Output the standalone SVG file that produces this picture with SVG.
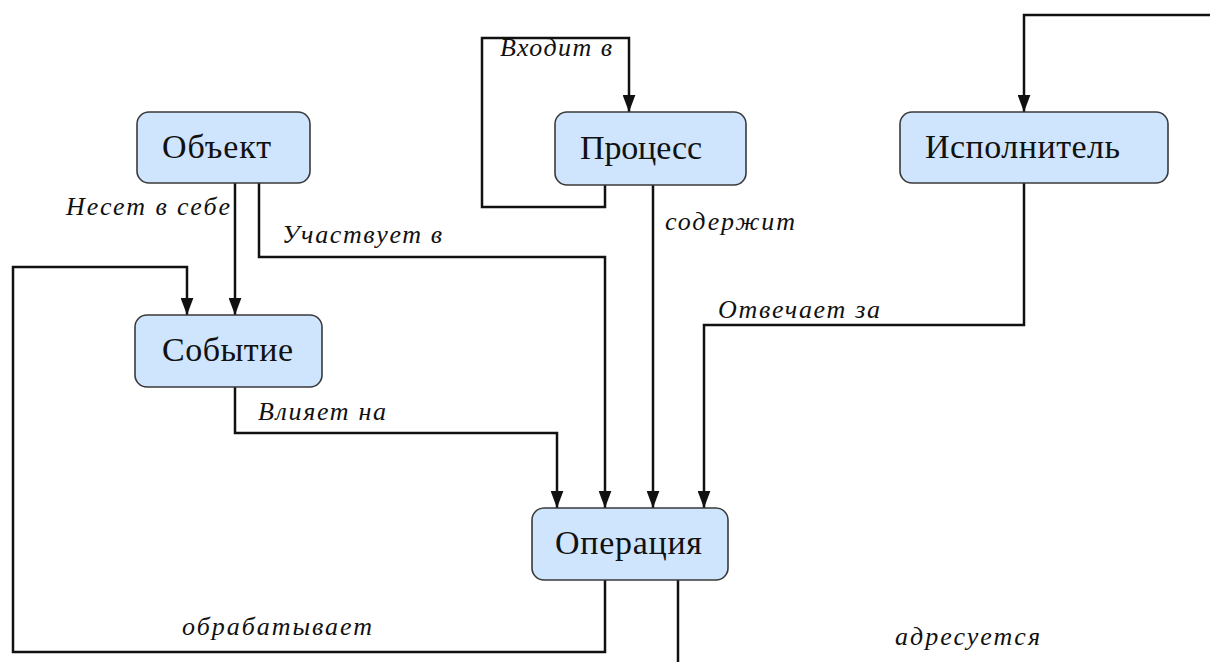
<svg xmlns="http://www.w3.org/2000/svg" width="1210" height="662" viewBox="0 0 1210 662">
<style>
.node rect{fill:#cfe5fd;stroke:#3a3a3a;stroke-width:1.6}
.node text{font-family:"Liberation Serif",serif;font-size:34px;fill:#111;text-anchor:middle}
.lbl{font-family:"Liberation Serif",serif;font-style:italic;font-size:26px;fill:#111}
#connectors path{fill:none;stroke:#111;stroke-width:2.5}
</style>
<defs>
<marker id="arr" viewBox="0 0 16 12" refX="16" refY="6" markerWidth="17" markerHeight="13" markerUnits="userSpaceOnUse" orient="auto">
<path d="M0,0 L16,6 L0,12 Z" fill="#111"/>
</marker>
</defs>
<rect width="1210" height="662" fill="#fff"/>
<g id="connectors">
<path d="M605,185 V207 H482 V38 H629 V112" marker-end="url(#arr)"/>
<path d="M1210,15 H1024 V112" marker-end="url(#arr)"/>
<path d="M235,183 V315" marker-end="url(#arr)"/>
<path d="M259,183 V257 H605 V508" marker-end="url(#arr)"/>
<path d="M605,580 V652 H13 V267 H187 V315" marker-end="url(#arr)"/>
<path d="M235,387 V433 H557 V508" marker-end="url(#arr)"/>
<path d="M653,185 V508" marker-end="url(#arr)"/>
<path d="M1024,183 V325 H704 V508" marker-end="url(#arr)"/>
<path d="M678,580 V662"/>
</g>
<g id="labels">
<text class="lbl" x="66" y="215" textLength="164" lengthAdjust="spacing">Несет в себе</text>
<text class="lbl" x="282" y="243" textLength="160" lengthAdjust="spacing">Участвует в</text>
<text class="lbl" x="500" y="56" textLength="112" lengthAdjust="spacing">Входит в</text>
<text class="lbl" x="665" y="230" textLength="130" lengthAdjust="spacing">содержит</text>
<text class="lbl" x="718" y="318" textLength="162" lengthAdjust="spacing">Отвечает за</text>
<text class="lbl" x="258" y="420" textLength="128" lengthAdjust="spacing">Влияет на</text>
<text class="lbl" x="182" y="635" textLength="190" lengthAdjust="spacing">обрабатывает</text>
<text class="lbl" x="895" y="645" textLength="145" lengthAdjust="spacing">адресуется</text>
</g>
<g id="node-object" class="node"><rect x="137" y="112" width="173" height="71" rx="12"/><text x="216.5" y="158" textLength="109" lengthAdjust="spacing">Объект</text></g>
<g id="node-process" class="node"><rect x="555" y="112" width="191" height="73" rx="12"/><text x="641" y="159" textLength="122" lengthAdjust="spacing">Процесс</text></g>
<g id="node-executor" class="node"><rect x="900" y="112" width="268" height="71" rx="12"/><text x="1022.5" y="158" textLength="195" lengthAdjust="spacing">Исполнитель</text></g>
<g id="node-event" class="node"><rect x="135" y="315" width="187" height="72" rx="12"/><text x="227.5" y="361" textLength="131" lengthAdjust="spacing">Событие</text></g>
<g id="node-operation" class="node"><rect x="532" y="508" width="196" height="72" rx="12"/><text x="628.5" y="554" textLength="147" lengthAdjust="spacing">Операция</text></g>
</svg>
